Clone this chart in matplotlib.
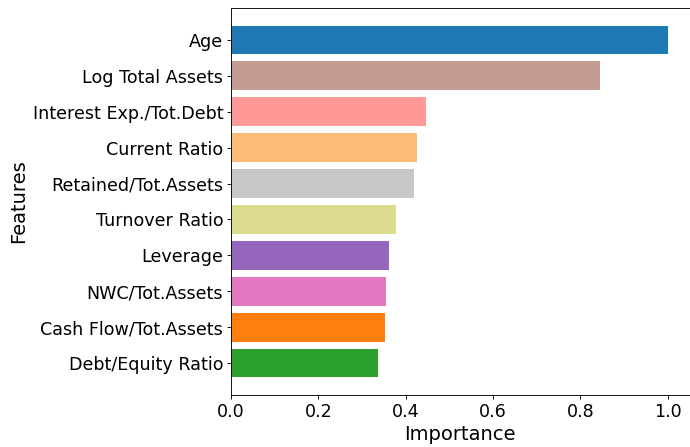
import matplotlib
matplotlib.use("Agg")
import matplotlib.pyplot as plt

features = ["Debt/Equity Ratio", "Cash Flow/Tot.Assets", "NWC/Tot.Assets", "Leverage",
            "Turnover Ratio", "Retained/Tot.Assets", "Current Ratio",
            "Interest Exp./Tot.Debt", "Log Total Assets", "Age"]
importance = [0.336, 0.352, 0.354, 0.361, 0.377, 0.418, 0.425, 0.447, 0.845, 1.0]
colors = ["#2ca02c", "#ff7f0e", "#e377c2", "#9467bd", "#dbdb8d", "#c7c7c7",
          "#ffbb78", "#ff9896", "#c49c94", "#1f77b4"]

DPI = 80
fig = plt.figure(figsize=(690/DPI, 447/DPI), dpi=DPI)
ax = fig.add_axes([231/690, 1-395/447, (689.6-231)/690, (395-8)/447])
ax.barh(features, importance, color=colors)
ax.set_xlabel("Importance", fontsize=17.5)
ax.set_ylabel("Features", fontsize=17.5)
ax.tick_params(labelsize=15.8)
fig.savefig("out.png", dpi=DPI)
